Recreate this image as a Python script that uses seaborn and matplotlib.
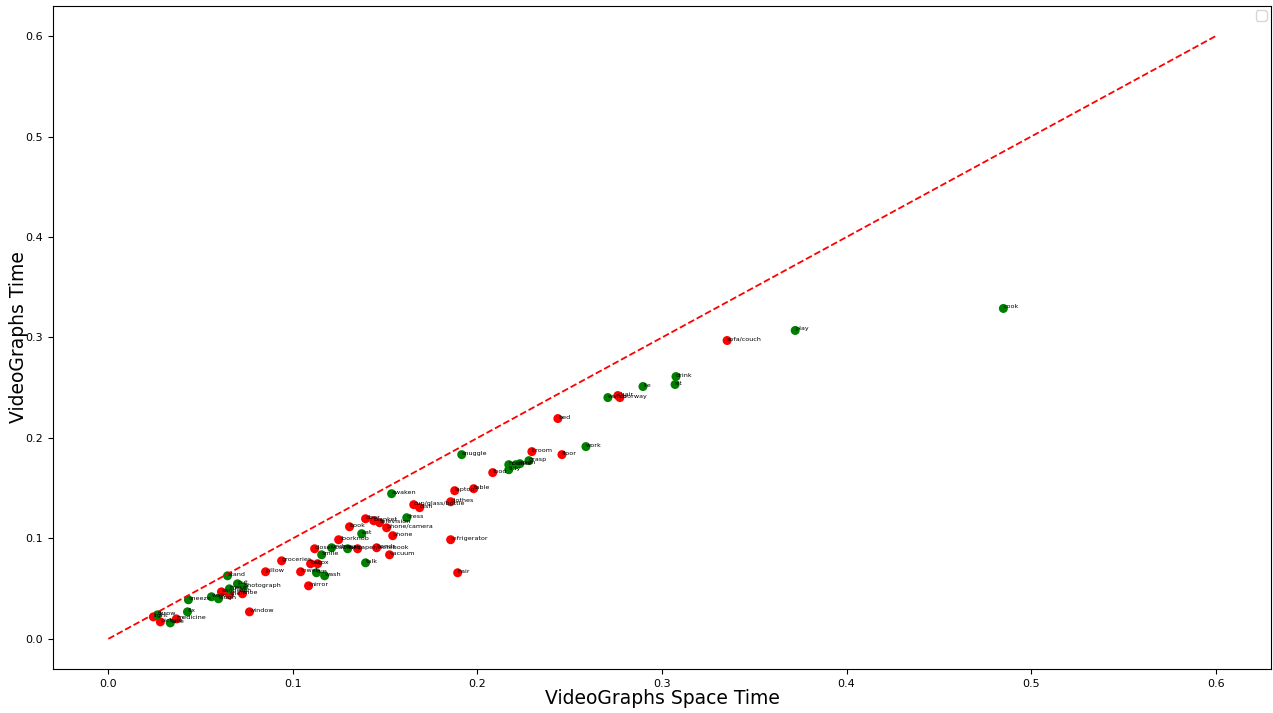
import matplotlib
matplotlib.use("Agg")
import matplotlib.pyplot as plt
import seaborn as sns
import pandas as pd

# Object classes (red)
object_names = [
    "sofa/couch", "bed", "broom", "floor", "food", "table", "laptop", "clothes",
    "cup/glass/bottle", "dish", "chair", "doorway", "refrigerator", "hair",
    "vacuum", "phone/camera", "television", "blanket", "door", "book", "phone",
    "doorknob", "closet/cabinet", "paper/notebook", "hands", "groceries",
    "pillow", "towel", "bag", "box", "mirror", "window", "shoe", "sandwich",
    "shelf", "light", "picture", "medicine",
]
object_space = [
    0.3353, 0.2436, 0.2295, 0.2458, 0.2083, 0.1980, 0.1877, 0.1855,
    0.1655, 0.1687, 0.2761, 0.2772, 0.1855, 0.1893,
    0.1524, 0.1508, 0.1470, 0.1438, 0.1394, 0.1307, 0.1541,
    0.1248, 0.1118, 0.1351, 0.1454, 0.0939,
    0.0852, 0.1042, 0.1096, 0.1134, 0.1085, 0.0765, 0.0727, 0.0613,
    0.0656, 0.0244, 0.0282, 0.0369,
]
object_time = [
    0.2970, 0.2193, 0.1864, 0.1834, 0.1655, 0.1495, 0.1475, 0.1365,
    0.1336, 0.1306, 0.2422, 0.2402, 0.0987, 0.0658,
    0.0837, 0.1106, 0.1156, 0.1176, 0.1196, 0.1116, 0.1027,
    0.0987, 0.0897, 0.0897, 0.0907, 0.0777,
    0.0668, 0.0668, 0.0748, 0.0748, 0.0528, 0.0269, 0.0449, 0.0468,
    0.0439, 0.0219, 0.0169, 0.0199,
]

# Action verbs (green)
verb_names = [
    "cook", "play", "drink", "sit", "lie", "watch", "work", "grasp", "open",
    "close", "hold", "tidy", "snuggle", "awaken", "dress", "eat", "talk",
    "wash", "run", "smile", "undress", "turn", "stand", "put", "photograph",
    "make", "walk", "laugh", "sneeze", "fix", "throw", "take",
]
verb_space = [
    0.4850, 0.3722, 0.3076, 0.3071, 0.2897, 0.2707, 0.2588, 0.2279, 0.2230,
    0.2208, 0.2170, 0.2170, 0.1915, 0.1535, 0.1617, 0.1373, 0.1394,
    0.1172, 0.1128, 0.1156, 0.1210, 0.1297, 0.0646, 0.0700, 0.0732,
    0.0656, 0.0559, 0.0597, 0.0434, 0.0429, 0.0266, 0.0336,
]
verb_time = [
    0.3289, 0.3070, 0.2611, 0.2532, 0.2512, 0.2402, 0.1914, 0.1774, 0.1744,
    0.1734, 0.1734, 0.1684, 0.1834, 0.1445, 0.1206, 0.1047, 0.0757,
    0.0628, 0.0658, 0.0837, 0.0907, 0.0897, 0.0628, 0.0548, 0.0518,
    0.0498, 0.0419, 0.0399, 0.0389, 0.0269, 0.0239, 0.0159,
]

diag = [0.0, 0.6]

df = pd.concat([
    pd.DataFrame({"name": object_names, "space": object_space,
                  "time": object_time, "kind": "object"}),
    pd.DataFrame({"name": verb_names, "space": verb_space,
                  "time": verb_time, "kind": "verb"}),
], ignore_index=True)

fig = plt.figure(figsize=(12.73, 7.13), dpi=100)
ax = fig.add_axes([0.0416, 0.0617, 0.9568, 0.9299])

sns.scatterplot(data=df, x="space", y="time", hue="kind",
                palette={"object": "red", "verb": "green"},
                s=42, edgecolor="none", legend=False, ax=ax)

for _, row in df.iterrows():
    ax.text(row["space"], row["time"], row["name"], fontsize=4.6)

ax.plot(diag, diag, color="red", linestyle="--", linewidth=1.3)

ax.set_xlabel("VideoGraphs Space Time", fontsize=13.5, labelpad=0)
ax.set_ylabel("VideoGraphs Time", fontsize=13.5, labelpad=-2)
ax.tick_params(labelsize=8)
ax.set_xlim(-0.03, 0.63)
ax.set_ylim(-0.03, 0.63)
ax.set_xticks([0.0, 0.1, 0.2, 0.3, 0.4, 0.5, 0.6])
ax.set_yticks([0.0, 0.1, 0.2, 0.3, 0.4, 0.5, 0.6])
ax.legend(handles=[], loc="upper right", borderaxespad=0.3)

fig.savefig("out.png", dpi=100)
